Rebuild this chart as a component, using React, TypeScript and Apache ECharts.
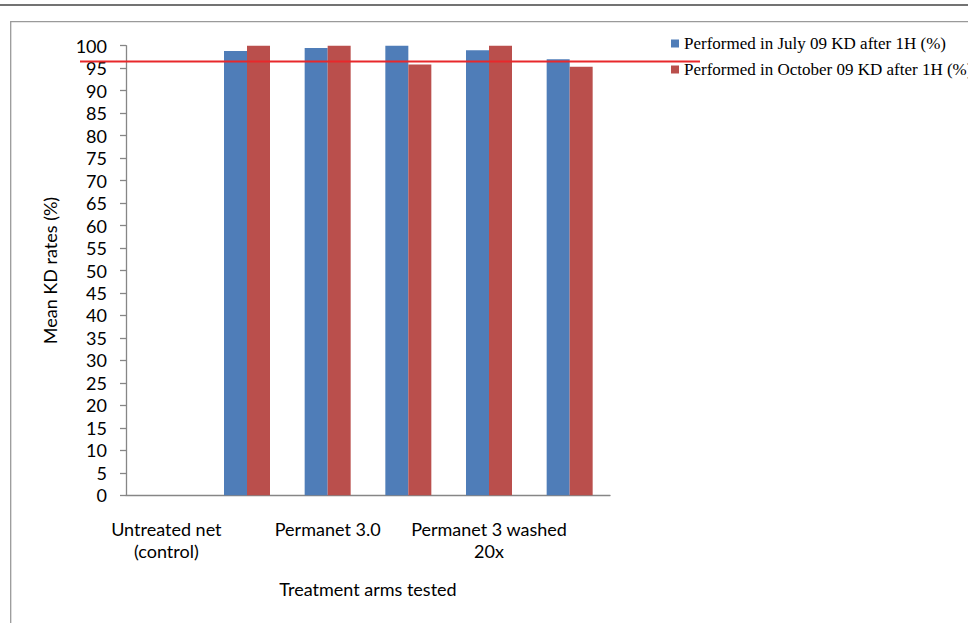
import React, { useEffect, useRef } from "react";
import * as echarts from "echarts";

const categories = [
  "Untreated net\n(control)",
  "Permanet 2.0",
  "Permanet 3.0",
  "Permanet 2.0 washed\n20x",
  "Permanet 3 washed\n20x",
  "Olyset washed\n20x",
];
const seriesNames = [
  "Performed in July 09 KD after 1H (%)",
  "Performed in October 09 KD after 1H (%)",
];
const julyValues = [0, 98.8, 99.5, 100, 99, 97];
const octoberValues = [0, 100, 100, 95.8, 100, 95.3];
const thresholdValue = 96.5;

const SANS = "Lato, 'Liberation Sans', sans-serif";
const SERIF = "'Liberation Serif', 'Times New Roman', serif";

export default function App() {
  const ref = useRef<HTMLDivElement>(null);
  useEffect(() => {
    const chart = echarts.init(ref.current!, null, { renderer: "svg" });
    chart.setOption({
      animation: false,
      backgroundColor: "#ffffff",
      grid: { left: 126, right: 358, top: 45.7, bottom: 127.7 },
      legend: {
        orient: "vertical",
        left: 671,
        top: 35,
        padding: 0,
        itemWidth: 8,
        itemHeight: 8,
        itemGap: 9,
        icon: "rect",
        textStyle: { fontFamily: SERIF, fontSize: 17, lineHeight: 17, color: "#000" },
        data: seriesNames,
      },
      xAxis: {
        type: "category",
        data: categories,
        name: "Treatment arms tested",
        nameLocation: "middle",
        nameGap: 85,
        nameTextStyle: { fontFamily: SANS, fontSize: 18, color: "#000" },
        axisLine: { show: true, lineStyle: { color: "#868686", width: 1.3 } },
        axisTick: { show: false },
        axisLabel: {
          interval: 1,
          margin: 22,
          fontFamily: SANS,
          fontSize: 18,
          lineHeight: 22.7,
          color: "#000",
        },
        splitLine: { show: false },
      },
      yAxis: {
        type: "value",
        min: 0,
        max: 100,
        interval: 5,
        name: "Mean KD rates (%)",
        nameLocation: "middle",
        nameGap: 67,
        nameTextStyle: { fontFamily: SANS, fontSize: 18, color: "#000" },
        axisLine: { show: true, lineStyle: { color: "#868686", width: 1.3 } },
        axisTick: { show: true, inside: false, length: 6, lineStyle: { color: "#868686", width: 1.3 } },
        axisLabel: { margin: 19, fontFamily: SANS, fontSize: 18, color: "#000" },
        splitLine: { show: false },
      },
      series: [
        {
          name: seriesNames[0],
          type: "bar",
          data: julyValues,
          barWidth: 23,
          barGap: "0%",
          itemStyle: { color: "#4F7DB8" },
        },
        {
          name: seriesNames[1],
          type: "bar",
          data: octoberValues,
          barWidth: 23,
          barGap: "0%",
          itemStyle: { color: "#BA4F4C" },
        },
      ],
    });
    const yPix = chart.convertToPixel({ yAxisIndex: 0 }, thresholdValue) as number;
    chart.setOption({
      graphic: [
        {
          type: "line",
          shape: { x1: 0, y1: 5, x2: 968, y2: 5 },
          style: { stroke: "#444444", lineWidth: 1.5 },
          silent: true,
        },
        {
          type: "rect",
          shape: { x: 10.7, y: 21.7, width: 1000, height: 700 },
          style: { fill: "none", stroke: "#9a9a9a", lineWidth: 1.3 },
          silent: true,
        },
        {
          type: "line",
          shape: { x1: 80, y1: yPix, x2: 700, y2: yPix },
          style: { stroke: "#E8282B", lineWidth: 2 },
          silent: true,
          z: 100,
        },
      ],
    });
    return () => chart.dispose();
  }, []);
  return (
    <div
      ref={ref}
      style={{ position: "fixed", left: 0, top: 0, width: 968, height: 623 }}
    />
  );
}
